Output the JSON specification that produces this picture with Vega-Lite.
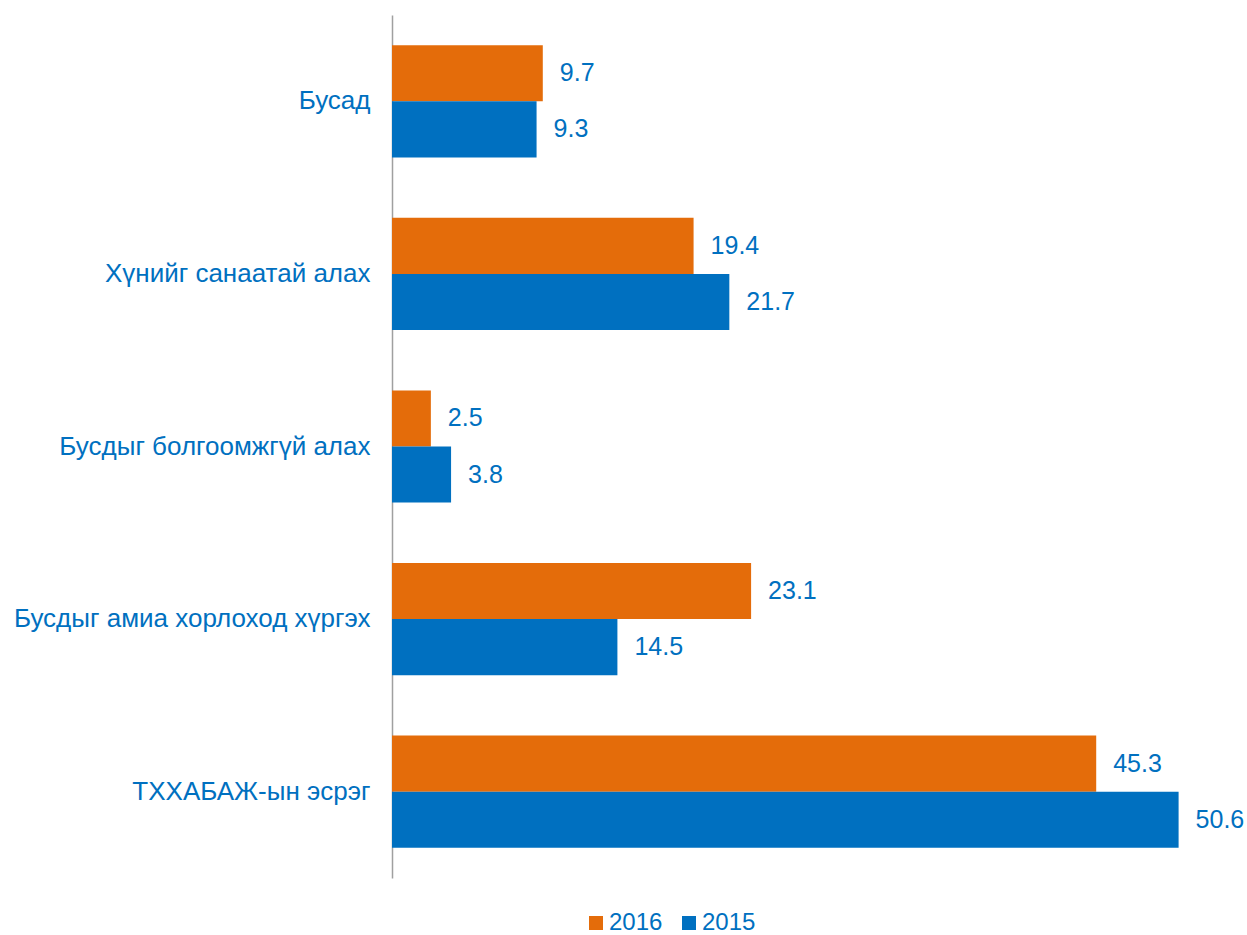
{
  "$schema": "https://vega.github.io/schema/vega-lite/v6.json",
  "autosize": {"type": "none"},
  "padding": {"left": 392, "top": 15, "right": 0, "bottom": 57},
  "width": 855,
  "height": 863,
  "background": "white",
  "config": {"view": {"stroke": null}, "font": "Liberation Sans"},
  "data": {"values": [
    {"category": "Бусад", "year": "2016", "value": 9.7},
    {"category": "Бусад", "year": "2015", "value": 9.3},
    {"category": "Хүнийг санаатай алах", "year": "2016", "value": 19.4},
    {"category": "Хүнийг санаатай алах", "year": "2015", "value": 21.7},
    {"category": "Бусдыг болгоомжгүй алах", "year": "2016", "value": 2.5},
    {"category": "Бусдыг болгоомжгүй алах", "year": "2015", "value": 3.8},
    {"category": "Бусдыг амиа хорлоход хүргэх", "year": "2016", "value": 23.1},
    {"category": "Бусдыг амиа хорлоход хүргэх", "year": "2015", "value": 14.5},
    {"category": "ТХХАБАЖ-ын эсрэг", "year": "2016", "value": 45.3},
    {"category": "ТХХАБАЖ-ын эсрэг", "year": "2015", "value": 50.6}
  ]},
  "encoding": {
    "y": {
      "field": "category", "type": "nominal", "sort": null,
      "scale": {"paddingInner": 0.35, "paddingOuter": 0.175},
      "axis": {"title": null, "ticks": false, "domainColor": "#a0a0a0", "domainWidth": 1.5,
        "labelColor": "#0070C0", "labelFontSize": 26, "labelPadding": 22, "labelLimit": 400}
    },
    "yOffset": {"field": "year", "type": "nominal", "sort": ["2016", "2015"], "scale": {"paddingInner": 0, "paddingOuter": 0}},
    "x": {"field": "value", "type": "quantitative", "scale": {"domain": [0, 55], "nice": false}, "axis": null}
  },
  "layer": [
    {
      "mark": {"type": "bar"},
      "encoding": {
        "color": {
          "field": "year", "type": "nominal",
          "scale": {"domain": ["2016", "2015"], "range": ["#E46C0A", "#0070C0"]},
          "legend": {
            "title": null, "orient": "none", "direction": "horizontal",
            "legendX": 192, "legendY": 896,
            "symbolType": "square", "symbolSize": 196, "symbolStrokeWidth": 0,
            "labelFontSize": 24, "labelColor": "#0070C0", "columnPadding": 14, "labelOffset": 1
          }
        }
      }
    },
    {
      "mark": {"type": "text", "align": "left", "baseline": "middle", "dx": 17, "fontSize": 25, "color": "#0070C0"},
      "encoding": {"text": {"field": "value", "type": "quantitative", "format": ".1f"}}
    }
  ]
}
